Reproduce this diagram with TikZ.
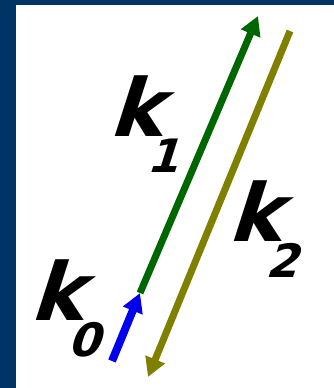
\documentclass[tikz,border=0pt]{standalone}
\usepackage{fontspec}
\usetikzlibrary{arrows.meta}
\newfontfamily\kfamily[FakeSlant=0.32]{DejaVu Sans Bold}
\definecolor{frameblue}{HTML}{003366}
\definecolor{kgreen}{HTML}{006600}
\definecolor{kolive}{HTML}{808000}
\definecolor{kblue}{HTML}{0000EE}
\newcommand\kvec[1]{\fontsize{80}{80}\selectfont k\kern-15pt\raisebox{-36pt}{\fontsize{46}{46}\selectfont #1}}
\tikzset{
  vec/.style={-{Triangle[length=19pt,width=20pt]},line width=7pt},
  klabel/.style={font=\kfamily,inner sep=0pt,anchor=base west},
}
\begin{document}
\begin{tikzpicture}[x=1pt,y=-1pt]
  % frame
  \fill[frameblue] (0,0) rectangle (334,388);
  \fill[white] (16,5) rectangle (334,388);
  % end points of the vectors
  \coordinate (k0start) at (112,361);
  \coordinate (o) at (140,293);
  \coordinate (k1end) at (258,16);
  \coordinate (k2start) at (290,31);
  \coordinate (k2end) at (148,377);
  \draw[vec,kgreen] (o) -- (k1end);
  \draw[vec,kolive] (k2start) -- (k2end);
  \draw[vec,kblue,line width=8pt] (k0start) -- (o);
  % labels
  \node[klabel] (k1) at (108,136) {\kvec{1}};
  \node[klabel] (k2) at (227,241) {\kvec{2}};
  \node[klabel] (k0) at (29,320) {\kvec{0}};
\end{tikzpicture}
\end{document}
